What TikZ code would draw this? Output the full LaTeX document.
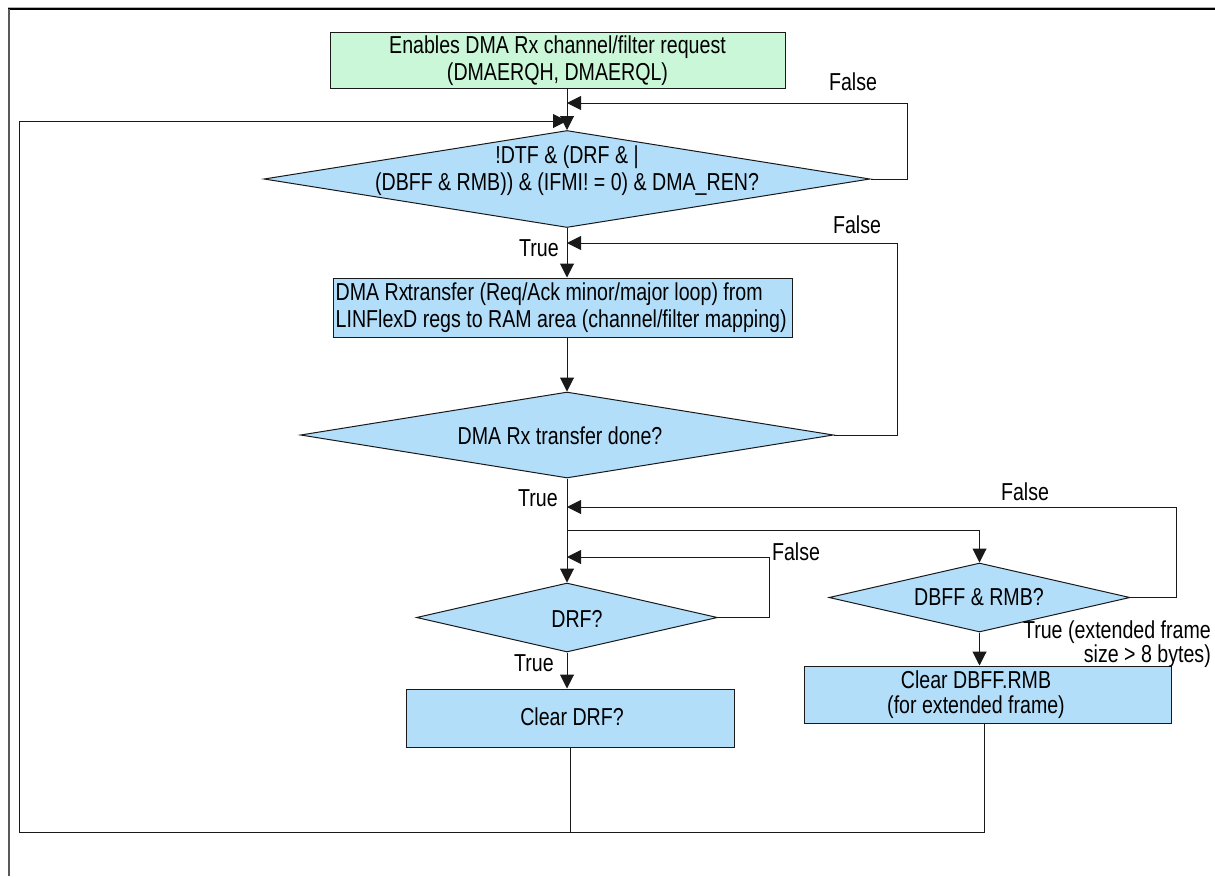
\documentclass[tikz,border=0pt]{standalone}
\usepackage{fontspec}
\setmainfont[FakeStretch=0.8]{Liberation Sans}
\usetikzlibrary{arrows.meta,shapes.geometric,calc}
\definecolor{boxgreen}{RGB}{203,247,217}
\definecolor{boxblue}{RGB}{179,222,250}
\begin{document}
\begin{tikzpicture}[x=1pt,y=-1pt,
  every node/.style={font=\fontsize{24.5}{27}\selectfont},
  procbox/.style={draw=black!90, line width=1pt, fill=boxblue, inner sep=0pt},
  startbox/.style={procbox, fill=boxgreen},
  decision/.style={diamond, draw=black!90, line width=1pt, fill=boxblue, inner sep=0pt},
  flow/.style={line width=1pt, draw=black!90},
  arr/.style={flow, -{Triangle[length=14pt,width=14pt]}},
  lbl/.style={inner sep=0pt}
]
\useasboundingbox (0,0) rectangle (1215,876);
\fill[white] (0,0) rectangle (1215,876);
% frame
\draw[line width=1pt, black!30] (8,7.5) -- (1215,7.5);
\draw[line width=1.5pt, black] (8,9) -- (1215,9);
\draw[line width=2pt, black!65] (9,9) -- (9,876);

% nodes
\node[startbox, minimum width=455pt, minimum height=56pt, align=center] (start) at (557.5,60.5)
  {Enables DMA Rx channel/filter request\\(DMAERQH, DMAERQL)};
\node[decision, minimum width=606pt, minimum height=97pt] (d1) at (567,179) {};
\node[lbl, align=center] (d1t) at (567,171) {!DTF \& (DRF \& |\\(DBFF \& RMB)) \& (IFMI! = 0) \& DMA\_REN?};
\node[procbox, minimum width=459pt, minimum height=59pt] (b2) at (562.5,307.5) {};
\node[lbl, align=left, anchor=west] (b2t) at (335.5,307.5)
  {DMA Rx\kern-1pt transfer (Req/Ack minor/major loop) from\\LINFlexD regs to RAM area (channel/filter mapping)};
\node[decision, minimum width=533pt, minimum height=86pt] (d2) at (567,435) {};
\node[lbl] (d2t) at (560,436) {DMA Rx transfer done?};
\node[decision, minimum width=301pt, minimum height=69pt] (drf) at (567,617.5) {};
\node[lbl] (drft) at (577,619) {DRF?};
\node[procbox, minimum width=328pt, minimum height=58pt] (b3) at (570,718) {};
\node[lbl] (b3t) at (572,717) {Clear DRF?};
\node[decision, minimum width=301pt, minimum height=69pt] (d4) at (979.5,597.5) {};
\node[lbl] (d4t) at (979,597) {DBFF \& RMB?};
\node[procbox, minimum width=367pt, minimum height=57pt] (b4) at (987.5,694.5) {};
\node[lbl, align=center, font=\fontsize{24.5}{25}\selectfont] (b4t) at (976,694.5) {Clear DBFF.RMB\\(for extended frame)};

% labels
\node[lbl] (lf1) at (853,82) {False};
\node[lbl] (lf2) at (857,225) {False};
\node[lbl] (lt1) at (539,248) {True};
\node[lbl] (lt2) at (538,498) {True};
\node[lbl] (lf3) at (1025,492) {False};
\node[lbl] (lf4) at (796,552) {False};
\node[lbl] (lt3) at (534,663) {True};
\node[lbl, align=right, anchor=east, font=\fontsize{24.5}{18}\selectfont] (lt4) at (1211,644)
  {True (extended frame\\size > 8 bytes)};

% helper coordinates
\coordinate (f1) at (907,103);
\coordinate (f2) at (897,243);
\coordinate (f3) at (1176,507);
\coordinate (f4) at (769,557);
\coordinate (br) at (567,530);
\coordinate (lp) at (19,832);
\coordinate (joinL) at (567,121);

% connectors
\draw[arr] (start.south -| d1.north) -- (d1.north);
\draw[arr] (d1.east) -| (f1) -- (f1 -| d1.north);
\draw[arr] (d1.south) -- (d1.south |- b2.north);
\draw[arr] (d2.east) -| (f2) -- (f2 -| d1.south);
\draw[arr] (b2.south -| d2.north) -- (d2.north);
\draw[arr] (d2.south) -- (drf.north);
\draw[arr] (d4.east) -| (f3) -- (f3 -| d2.south);
\draw[arr] (br) -| (d4.north);
\draw[arr] (drf.east) -| (f4) -- (f4 -| drf.north);
\draw[arr] (drf.south) -- (drf.south |- b3.north);
\draw[arr] (d4.south) -- (d4.south |- b4.north);
\draw[flow] (b3.south) -- (b3.south |- lp);
\draw[arr] ([xshift=-3pt]b4.south) |- (lp) |- (joinL);
\end{tikzpicture}
\end{document}
